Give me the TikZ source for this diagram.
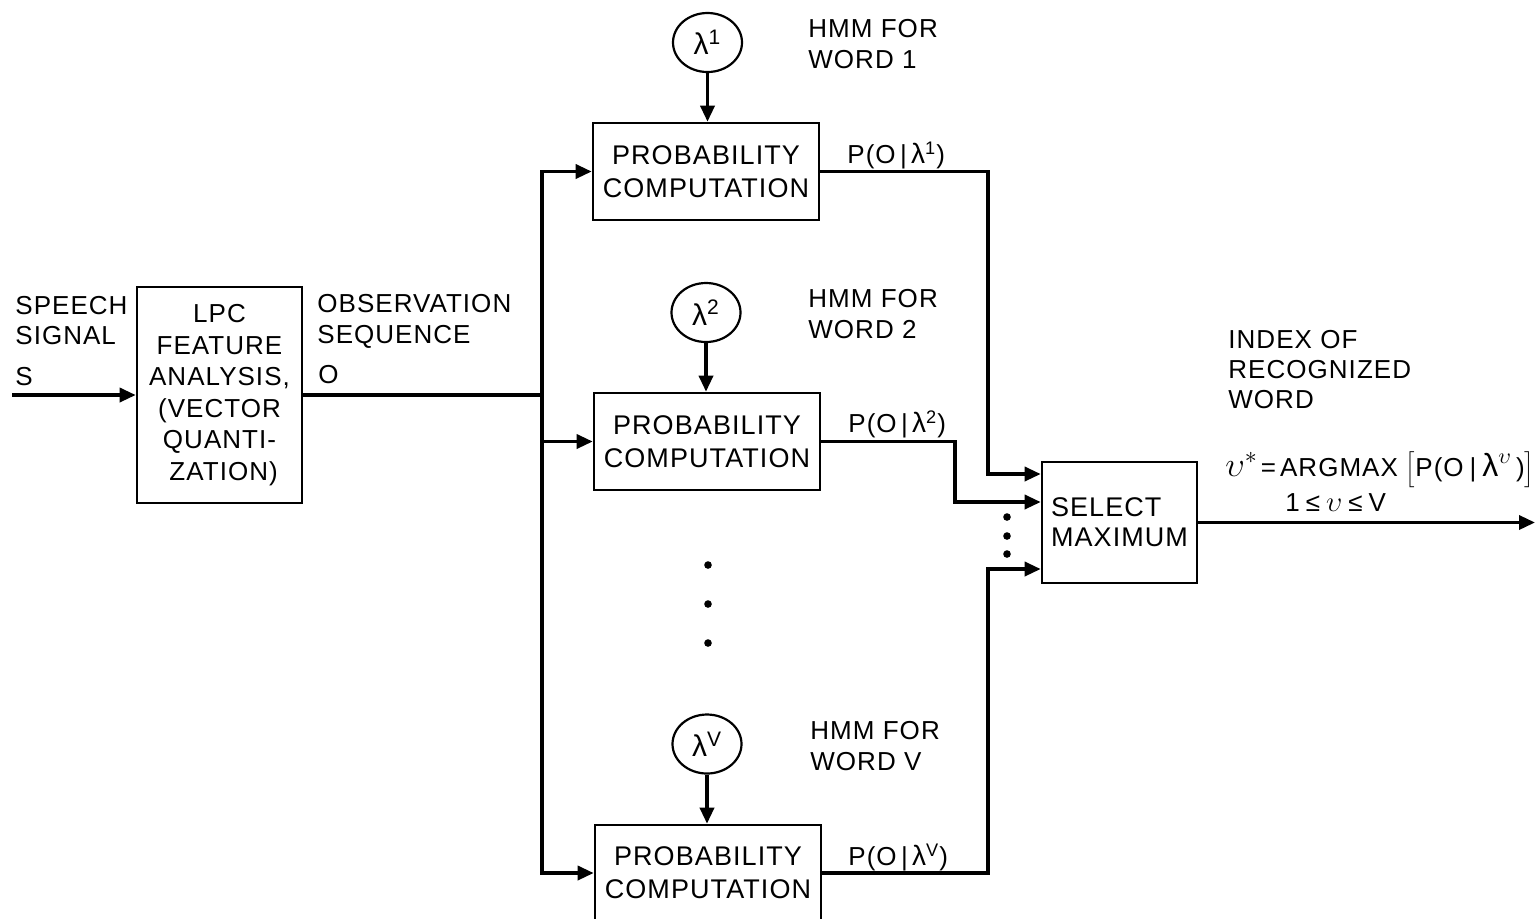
\documentclass[tikz,border=0pt]{standalone}
\usepackage{fontspec}
\setmainfont[LetterSpace=4]{Liberation Sans}
\usetikzlibrary{arrows.meta,shapes.geometric}
\begin{document}
\begin{tikzpicture}[x=0.5pt,y=-0.5pt,
  box/.style={draw,line width=1.3pt,inner sep=0pt,align=center,
    font=\fontsize{13.5}{16.5}\selectfont},
  lbl/.style={inner sep=0pt,align=left,font=\fontsize{13}{15.5}\selectfont},
  wire/.style={line width=1.7pt},
  conn/.style={wire,-{Triangle[length=8pt,width=7pt]}},
  model/.style={draw,ellipse,line width=1.1pt,minimum width=34.5pt,
    minimum height=29.5pt,inner sep=0pt,font=\fontsize{15}{15}\selectfont},
  dot/.style={circle,fill,inner sep=0pt,minimum size=3.8pt}]
\useasboundingbox (0,0) rectangle (1535,918);

% front end
\node[box,minimum width=82.5pt,minimum height=108pt,
  font=\fontsize{13}{15.75}\selectfont] (lpc) at (219.5,395)
  {LPC\\FEATURE\\ANALYSIS,\\(VECTOR\\QUANTI-\\\ ZATION)};

% word models
\node[model] (l1) at (707.5,42.5) {λ\textsuperscript{1}};
\node[model] (l2) at (706,312.5) {λ\textsuperscript{2}};
\node[model] (lv) at (707,744) {λ\textsuperscript{V}};

\node[box,minimum width=113pt,minimum height=48.5pt] (p1) at (706,171.5)
  {PROBABILITY\\COMPUTATION};
\node[box,minimum width=113pt,minimum height=48.5pt] (p2) at (707,441.5)
  {PROBABILITY\\COMPUTATION};
\node[box,minimum width=113pt,minimum height=48pt] (pv) at (708,873)
  {PROBABILITY\\COMPUTATION};

\node[box,align=left,minimum width=77.5pt,minimum height=60.5pt,
  font=\fontsize{13.5}{15}\selectfont] (sel) at (1119.5,522.5)
  {SELECT\\MAXIMUM};

% elided models
\node[dot] (m1) at (708,565) {};
\node[dot] (m2) at (708,604) {};
\node[dot] (m3) at (708,643) {};
\node[dot] (s1) at (1007,517) {};
\node[dot] (s2) at (1007,536) {};
\node[dot] (s3) at (1007,554) {};

% labels
\node[lbl,anchor=north west,font=\fontsize{13}{15}\selectfont] (tsp) at (15,296) {SPEECH\\SIGNAL};
\node[lbl,anchor=base west] (ts) at (15,385) {S};
\node[lbl,anchor=north west] (tob) at (317,294) {OBSERVATION\\SEQUENCE};
\node[lbl,anchor=base west] (to) at (318,383) {O};
\node[lbl,anchor=north west] (h1) at (808,19) {HMM FOR\\WORD 1};
\node[lbl,anchor=north west] (h2) at (808,289) {HMM FOR\\WORD 2};
\node[lbl,anchor=north west] (hv) at (810,721) {HMM FOR\\WORD V};
\node[lbl,anchor=base west] (q1) at (847,163) {P(O\,|\,{\fontsize{14}{14}\selectfont λ}\textsuperscript{1})};
\node[lbl,anchor=base west] (q2) at (848,432) {P(O\,|\,{\fontsize{14}{14}\selectfont λ}\textsuperscript{2})};
\node[lbl,anchor=base west] (qv) at (848,865) {P(O\,|\,{\fontsize{14}{14}\selectfont λ}\textsuperscript{V})};
\node[lbl,anchor=north west,font=\fontsize{13}{15}\selectfont] (ti) at (1228,330)
  {INDEX OF\\RECOGNIZED\\WORD};
\node[lbl,anchor=base west] (tf) at (1225,476)
  {{\fontsize{18}{18}\selectfont$\upsilon^{\ast}$}\hspace{1.5pt}=\hspace{2pt}ARGMAX\hspace{4pt}$\Bigl[$P(O\hspace{3pt}|\hspace{3pt}{\fontsize{16}{16}\selectfont λ}{\fontsize{16}{16}\selectfont$^{\upsilon}$}\hspace{2pt})$\Bigr]$};
\node[lbl,anchor=base west] (tr) at (1285,511)
  {1\hspace{3pt}≤\hspace{3pt}{\fontsize{15}{15}\selectfont$\upsilon$}\hspace{3pt}≤\hspace{3pt}V};

% connectors
\coordinate (src) at (12,395);
\coordinate (bus) at (542,395);
\coordinate (k1) at (988,474);
\coordinate (k2) at (955,502);
\coordinate (kv) at (988,569);
\coordinate (out) at (1535,522.5);

\draw[conn] (src) -- (lpc.west);
\draw[wire] (lpc.east) -- (bus);
\draw[conn] (bus) |- (p1.west);
\draw[conn] (bus) |- (p2.west);
\draw[conn] (bus) |- (pv.west);

\draw[conn] (l1.south) -- (l1.south |- p1.north);
\draw[conn] (l2.south) -- (l2.south |- p2.north);
\draw[conn] (lv.south) -- (lv.south |- pv.north);

\draw[conn] (p1.east) -| (k1) -- (k1 -| sel.west);
\draw[conn] (p2.east) -| (k2) -- (k2 -| sel.west);
\draw[conn] (pv.east) -| (kv) -- (kv -| sel.west);

\draw[conn] (sel.east) -- (out);
\end{tikzpicture}
\end{document}
